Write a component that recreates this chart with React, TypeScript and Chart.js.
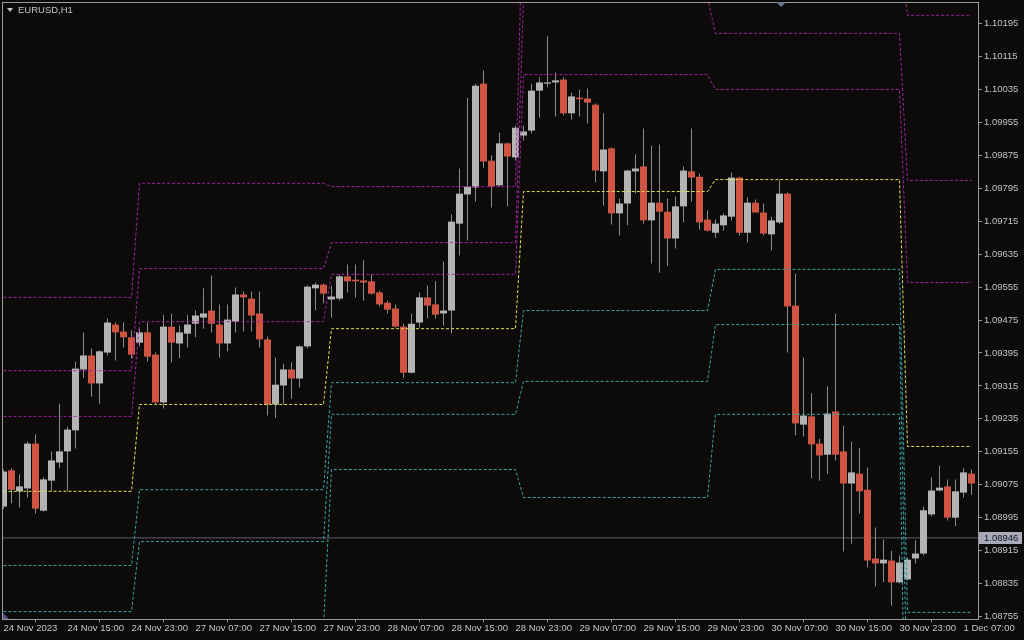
import { useEffect, useRef } from 'react';
import { Chart, registerables } from 'chart.js';

Chart.register(...registerables);

// ---------- data ----------
const symbolTitle = 'EURUSD,H1';

const xTickLabels = [
  '24 Nov 2023', '24 Nov 15:00', '24 Nov 23:00', '27 Nov 07:00', '27 Nov 15:00',
  '27 Nov 23:00', '28 Nov 07:00', '28 Nov 15:00', '28 Nov 23:00', '29 Nov 07:00',
  '29 Nov 15:00', '29 Nov 23:00', '30 Nov 07:00', '30 Nov 15:00', '30 Nov 23:00',
  '1 Dec 07:00',
];
const barsPerLabel = 8;

const yTicks = [
  1.08755, 1.08835, 1.08915, 1.08995, 1.09075, 1.09155, 1.09235, 1.09315, 1.09395,
  1.09475, 1.09555, 1.09635, 1.09715, 1.09795, 1.09875, 1.09955, 1.10035, 1.10115, 1.10195,
];
const yMin = 1.08749;
const yMax = 1.102473;

const currentPrice = 1.08946;
const chartShiftIndex = 97.2;

const opens = [
  1.09022, 1.09110, 1.09059, 1.09066, 1.09175, 1.09012, 1.09085, 1.09129, 1.09156, 1.09207,
  1.09355, 1.09389, 1.09321, 1.09396, 1.09464, 1.09447, 1.09433, 1.09420, 1.09445, 1.09391,
  1.09275, 1.09459, 1.09418, 1.09442, 1.09466, 1.09481, 1.09498, 1.09464, 1.09418, 1.09471,
  1.09537, 1.09527, 1.09491, 1.09428, 1.09270, 1.09316, 1.09355, 1.09333, 1.09411, 1.09552,
  1.09561, 1.09525, 1.09527, 1.09581, 1.09573, 1.09571, 1.09569, 1.09542, 1.09517, 1.09503,
  1.09459, 1.09347, 1.09469, 1.09530, 1.09513, 1.09491, 1.09498, 1.09709, 1.09780, 1.09797,
  1.10049, 1.09862, 1.09802, 1.09904, 1.09870, 1.09923, 1.09935, 1.10032, 1.10049, 1.10052,
  1.10059, 1.09977, 1.10015, 1.10013, 1.09998, 1.09836, 1.09892, 1.09734, 1.09758, 1.09836,
  1.09848, 1.09717, 1.09760, 1.09738, 1.09673, 1.09751, 1.09836, 1.09823, 1.09719, 1.09687,
  1.09705, 1.09726, 1.09821, 1.09687, 1.09760, 1.09736, 1.09683, 1.09712, 1.09782, 1.09510,
  1.09221, 1.09241, 1.09175, 1.09148, 1.09253, 1.09156, 1.09078, 1.09102, 1.09063, 1.08896,
  1.08884, 1.08891, 1.08838, 1.08845, 1.08896, 1.08908, 1.09003, 1.09061, 1.09071, 1.08995,
  1.09056, 1.09102,
];

const highs = [
  1.09112, 1.09115, 1.09100, 1.09180, 1.09197, 1.09093, 1.09156, 1.09272, 1.09216, 1.09374,
  1.09445, 1.09406, 1.09401, 1.09479, 1.09469, 1.09469, 1.09450, 1.09454, 1.09469, 1.09396,
  1.09488, 1.09491, 1.09462, 1.09488, 1.09498, 1.09552, 1.09583, 1.09513, 1.09513, 1.09554,
  1.09544, 1.09544, 1.09544, 1.09435, 1.09384, 1.09369, 1.09372, 1.09413, 1.09559, 1.09566,
  1.09564, 1.09559, 1.09586, 1.09610, 1.09610, 1.09620, 1.09586, 1.09547, 1.09522, 1.09513,
  1.09466, 1.09491, 1.09542, 1.09559, 1.09569, 1.09617, 1.09731, 1.09843, 1.10015, 1.10049,
  1.10081, 1.09875, 1.09930, 1.09906, 1.09947, 1.09947, 1.10049, 1.10064, 1.10164, 1.10076,
  1.10064, 1.10027, 1.10035, 1.10037, 1.10001, 1.09977, 1.09894, 1.09770, 1.09840, 1.09877,
  1.09940, 1.09899, 1.09901, 1.09770, 1.09775, 1.09848, 1.09940, 1.09831, 1.09741, 1.09719,
  1.09734, 1.09833, 1.09823, 1.09773, 1.09768, 1.09758, 1.09726, 1.09816, 1.09785, 1.09588,
  1.09384, 1.09297, 1.09187, 1.09314, 1.09491, 1.09219, 1.09180, 1.09165, 1.09117, 1.08971,
  1.08942, 1.08915, 1.08903, 1.08898, 1.08940, 1.09022, 1.09093, 1.09122, 1.09088, 1.09088,
  1.09115, 1.09112,
];

const lows = [
  1.09017, 1.09030, 1.09020, 1.09044, 1.09005, 1.09010, 1.09059, 1.09115, 1.09059, 1.09163,
  1.09335, 1.09289, 1.09272, 1.09389, 1.09377, 1.09408, 1.09382, 1.09411, 1.09374, 1.09272,
  1.09260, 1.09372, 1.09382, 1.09408, 1.09433, 1.09454, 1.09445, 1.09384, 1.09399, 1.09445,
  1.09447, 1.09447, 1.09408, 1.09243, 1.09238, 1.09270, 1.09284, 1.09311, 1.09406, 1.09498,
  1.09515, 1.09481, 1.09522, 1.09542, 1.09530, 1.09522, 1.09537, 1.09508, 1.09491, 1.09457,
  1.09335, 1.09345, 1.09457, 1.09479, 1.09479, 1.09462, 1.09442, 1.09632, 1.09668, 1.09763,
  1.09845, 1.09748, 1.09799, 1.09751, 1.09862, 1.09911, 1.09928, 1.09967, 1.10040, 1.09969,
  1.09972, 1.09962, 1.09969, 1.09952, 1.09809, 1.09753, 1.09707, 1.09680, 1.09705, 1.09782,
  1.09709, 1.09612, 1.09590, 1.09607, 1.09649, 1.09712, 1.09763, 1.09695, 1.09690, 1.09675,
  1.09692, 1.09717, 1.09680, 1.09663, 1.09748, 1.09680, 1.09644, 1.09709, 1.09396, 1.09195,
  1.09192, 1.09090, 1.09085, 1.09102, 1.09134, 1.08913, 1.08932, 1.09005, 1.08874, 1.08828,
  1.08838, 1.08782, 1.08835, 1.08843, 1.08884, 1.08903, 1.08998, 1.09059, 1.08988, 1.08974,
  1.09044, 1.09051,
];

const closes = [
  1.09107, 1.09063, 1.09071, 1.09175, 1.09017, 1.09088, 1.09134, 1.09156, 1.09209, 1.09357,
  1.09389, 1.09321, 1.09399, 1.09469, 1.09445, 1.09433, 1.09391, 1.09445, 1.09386, 1.09275,
  1.09459, 1.09420, 1.09445, 1.09464, 1.09486, 1.09491, 1.09466, 1.09418, 1.09476, 1.09537,
  1.09530, 1.09486, 1.09428, 1.09270, 1.09318, 1.09355, 1.09333, 1.09411, 1.09556, 1.09561,
  1.09539, 1.09532, 1.09581, 1.09569, 1.09569, 1.09566, 1.09539, 1.09513, 1.09500, 1.09459,
  1.09347, 1.09466, 1.09530, 1.09510, 1.09488, 1.09498, 1.09714, 1.09782, 1.09799, 1.10044,
  1.09860, 1.09799, 1.09904, 1.09872, 1.09942, 1.09933, 1.10032, 1.10052, 1.10052, 1.10057,
  1.09977, 1.10018, 1.10011, 1.10003, 1.09838, 1.09889, 1.09734, 1.09758, 1.09838, 1.09843,
  1.09717, 1.09760, 1.09738, 1.09673, 1.09751, 1.09838, 1.09821, 1.09712, 1.09692, 1.09709,
  1.09729, 1.09821, 1.09687, 1.09760, 1.09736, 1.09685, 1.09717, 1.09782, 1.09508, 1.09224,
  1.09243, 1.09173, 1.09146, 1.09248, 1.09148, 1.09078, 1.09105, 1.09059, 1.08891, 1.08884,
  1.08893, 1.08838, 1.08886, 1.08893, 1.08908, 1.09013, 1.09061, 1.09068, 1.08995, 1.09059,
  1.09105, 1.09078,
];

// daily pivot levels (one value per trading day, day starts at bar index)
const dayStart = [0, 17, 41, 65, 89, 113];
const r3 = [1.09530, 1.09807, 1.09799, 1.10533, 1.10387, 1.10215];
const r2 = [1.09352, 1.09600, 1.09663, 1.10258, 1.10171, 1.09814];
const r1 = [1.09241, 1.09471, 1.09586, 1.10071, 1.10035, 1.09566];
const pp = [1.09059, 1.09270, 1.09454, 1.09787, 1.09816, 1.09168];
const s1 = [1.08879, 1.09063, 1.09323, 1.09498, 1.09598, 1.08765];
const s2 = [1.08767, 1.08937, 1.09246, 1.09326, 1.09464, 1.08517];
const s3 = [1.08590, 1.08731, 1.09112, 1.09044, 1.09246, 1.08116];

// ---------- styles ----------
const BG = '#0c0b0a';
const BULL = '#b4b4b4';
const BEAR = '#cf5441';
const WICK = '#8a8a8a';
const FRAME = '#9a9a9a';
const TEXT = '#c4c4c4';
const MAGENTA = 'rgb(160,35,160)';
const YELLOW = 'rgb(228,228,80)';
const CYAN = 'rgb(55,165,168)';
const FONT = 'Liberation Sans';

const idx = opens.map((_, i) => i);

function levelSeries(levels: number[]) {
  return idx.map((i) => {
    let d = 0;
    for (let k = 0; k < dayStart.length; k++) if (i >= dayStart[k]) d = k;
    return { x: i, y: levels[d] };
  });
}

function pivotDataset(levels: number[], color: string) {
  return {
    type: 'line' as const,
    data: levelSeries(levels),
    borderColor: color,
    borderWidth: 1,
    borderDash: [3, 2],
    pointRadius: 0,
    fill: false,
    tension: 0,
    order: 1,
  };
}

const decorPlugin = {
  id: 'decor',
  beforeDraw(chart: any) {
    const { ctx, width, height } = chart;
    ctx.save();
    ctx.fillStyle = BG;
    ctx.fillRect(0, 0, width, height);
    ctx.restore();
  },
  afterDraw(chart: any) {
    const { ctx, chartArea: a, scales } = chart;
    ctx.save();
    // frame
    ctx.strokeStyle = FRAME;
    ctx.lineWidth = 1;
    ctx.strokeRect(a.left + 0.5, a.top + 0.5, a.right - a.left, a.bottom - a.top);
    // title
    ctx.fillStyle = TEXT;
    ctx.beginPath();
    ctx.moveTo(7, 8);
    ctx.lineTo(13, 8);
    ctx.lineTo(10, 12);
    ctx.closePath();
    ctx.fill();
    ctx.font = `9.5px "${FONT}"`;
    ctx.textBaseline = 'middle';
    ctx.textAlign = 'left';
    ctx.fillText(symbolTitle, 18, 10.5);
    // chart shift marker
    const sx = scales.x.getPixelForValue(chartShiftIndex);
    ctx.fillStyle = '#6d7890';
    ctx.beginPath();
    ctx.moveTo(sx - 5, a.top);
    ctx.lineTo(sx + 5, a.top);
    ctx.lineTo(sx, a.top + 5);
    ctx.closePath();
    ctx.fill();
    // bottom-left marker
    ctx.fillStyle = '#5a4f8c';
    ctx.beginPath();
    ctx.moveTo(a.left + 1, a.bottom - 6);
    ctx.lineTo(a.left + 1, a.bottom);
    ctx.lineTo(a.left + 7, a.bottom);
    ctx.closePath();
    ctx.fill();
    // current price label
    const py = Math.round(scales.y.getPixelForValue(currentPrice));
    ctx.fillStyle = '#a9a9bc';
    ctx.fillRect(a.right + 1, py - 6, 43, 12);
    ctx.fillStyle = '#101010';
    ctx.font = `9.5px "${FONT}"`;
    ctx.fillText(currentPrice.toFixed(5), a.right + 6, py + 0.5);
    ctx.restore();
  },
};

export default function App() {
  const ref = useRef<HTMLCanvasElement>(null);

  useEffect(() => {
    const canvas = ref.current;
    if (!canvas) return;

    const chart = new Chart(canvas, {
      type: 'bar',
      data: {
        datasets: [
          pivotDataset(r3, MAGENTA),
          pivotDataset(r2, MAGENTA),
          pivotDataset(r1, MAGENTA),
          pivotDataset(pp, YELLOW),
          pivotDataset(s1, CYAN),
          pivotDataset(s2, CYAN),
          pivotDataset(s3, CYAN),
          {
            type: 'bar' as const,
            data: idx.map((i) => ({ x: i, y: [opens[i], closes[i]] })) as any,
            backgroundColor: idx.map((i) => (closes[i] >= opens[i] ? BULL : BEAR)),
            borderWidth: 0,
            barThickness: 7,
            grouped: false,
            inflateAmount: 0,
            minBarLength: 1,
            order: 4,
          } as any,
          {
            type: 'bar' as const,
            data: idx.map((i) => ({ x: i, y: [lows[i], highs[i]] })) as any,
            backgroundColor: WICK,
            borderWidth: 0,
            barThickness: 1,
            grouped: false,
            inflateAmount: 0,
            order: 5,
          } as any,
          {
            type: 'line' as const,
            data: [
              { x: -1, y: currentPrice },
              { x: idx.length + 1, y: currentPrice },
            ],
            borderColor: '#5e5f70',
            borderWidth: 1,
            pointRadius: 0,
            fill: false,
            order: 10,
          },
        ] as any,
      },
      options: {
        animation: false,
        responsive: false,
        maintainAspectRatio: false,
        layout: { padding: { left: 2, top: 2, right: 0, bottom: 0 } },
        plugins: {
          legend: { display: false },
          tooltip: { enabled: false },
          title: { display: false },
        },
        scales: {
          x: {
            type: 'linear',
            min: -0.1875,
            max: 121.8125,
            offset: false,
            grid: { drawOnChartArea: false, drawTicks: true, tickLength: 3, color: FRAME },
            border: { display: false },
            ticks: {
              autoSkip: false,
              maxRotation: 0,
              minRotation: 0,
              align: 'start',
              padding: 1,
              color: TEXT,
              font: { family: FONT, size: 9.5 },
              callback: (v: any) => {
                const k = Math.round(Number(v) / barsPerLabel);
                return xTickLabels[k] ?? '';
              },
            },
            afterBuildTicks: (s: any) => {
              s.ticks = xTickLabels.map((_, k) => ({ value: k * barsPerLabel }));
            },
            afterFit: (s: any) => {
              s.height = 21;
              s.paddingLeft = 0;
              s.paddingRight = 0;
            },
          } as any,
          y: {
            type: 'linear',
            position: 'right',
            min: yMin,
            max: yMax,
            grid: { drawOnChartArea: false, drawTicks: true, tickLength: 4, color: FRAME },
            border: { display: false },
            ticks: {
              autoSkip: false,
              crossAlign: 'near',
              padding: 2,
              color: TEXT,
              font: { family: FONT, size: 9.5 },
              callback: (v: any) => Number(v).toFixed(5),
            },
            afterBuildTicks: (s: any) => {
              s.ticks = yTicks.map((v) => ({ value: v }));
            },
            afterFit: (s: any) => {
              s.width = 46;
              s.paddingTop = 0;
              s.paddingBottom = 0;
            },
          } as any,
        },
      },
      plugins: [decorPlugin],
    });

    return () => chart.destroy();
  }, []);

  return (
    <div style={{ position: 'fixed', left: 0, top: 0, width: 1024, height: 640, background: BG }}>
      <canvas ref={ref} width={1024} height={640} style={{ display: 'block', width: 1024, height: 640 }} />
    </div>
  );
}
